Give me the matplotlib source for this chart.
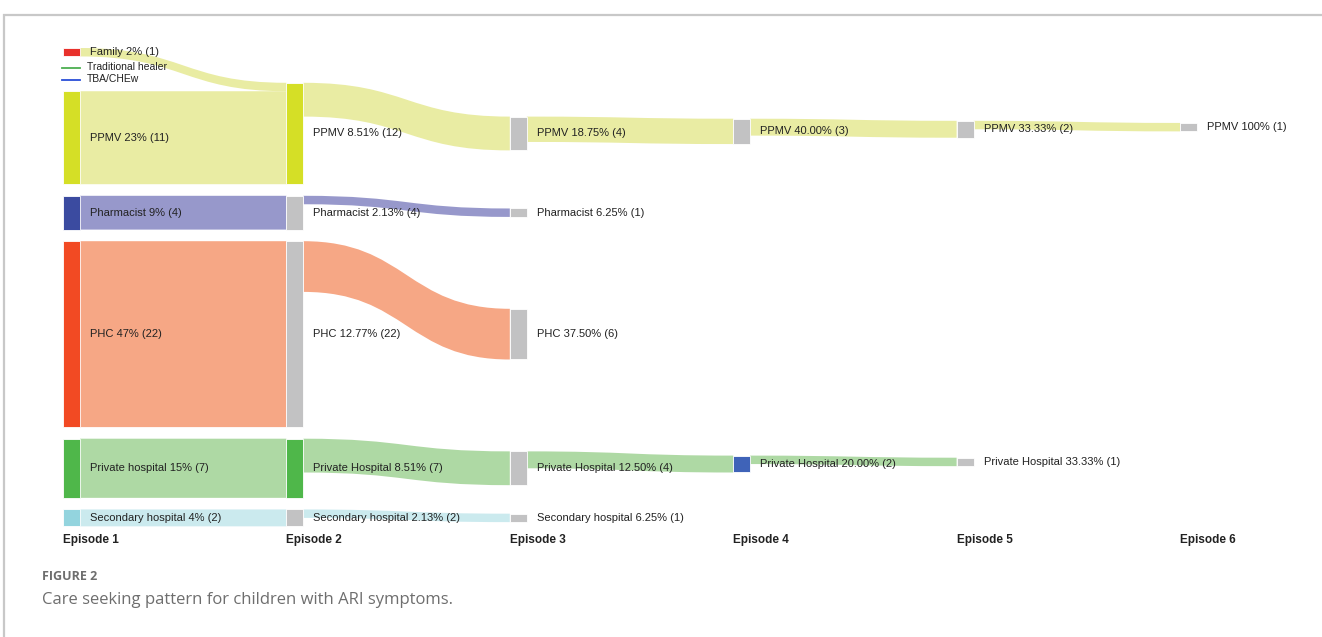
import matplotlib.pyplot as plt
from matplotlib.path import Path
from matplotlib.patches import PathPatch, Rectangle

# ---- data ----
episodes = ["Episode 1", "Episode 2", "Episode 3", "Episode 4", "Episode 5", "Episode 6"]

ep1_nodes = ["Family", "Traditional healer", "TBA/CHEw", "PPMV", "Pharmacist",
             "PHC", "Private hospital", "Secondary hospital"]
ep1_counts = [1, 0, 0, 11, 4, 22, 7, 2]
ep1_labels = ["Family 2% (1)", "Traditional healer", "TBA/CHEw", "PPMV 23% (11)",
              "Pharmacist 9% (4)", "PHC 47% (22)", "Private hospital 15% (7)",
              "Secondary hospital 4% (2)"]

ep2_nodes = ["PPMV", "Pharmacist", "PHC", "Private hospital", "Secondary hospital"]
ep2_counts = [12, 4, 22, 7, 2]
ep2_labels = ["PPMV 8.51% (12)", "Pharmacist 2.13% (4)", "PHC 12.77% (22)",
              "Private Hospital 8.51% (7)", "Secondary hospital 2.13% (2)"]

ep3_nodes = ["PPMV", "Pharmacist", "PHC", "Private hospital", "Secondary hospital"]
ep3_counts = [4, 1, 6, 4, 1]
ep3_labels = ["PPMV 18.75% (4)", "Pharmacist 6.25% (1)", "PHC 37.50% (6)",
              "Private Hospital 12.50% (4)", "Secondary hospital 6.25% (1)"]

ep4_nodes = ["PPMV", "Private hospital"]
ep4_counts = [3, 2]
ep4_labels = ["PPMV 40.00% (3)", "Private Hospital 20.00% (2)"]

ep5_nodes = ["PPMV", "Private hospital"]
ep5_counts = [2, 1]
ep5_labels = ["PPMV 33.33% (2)", "Private Hospital 33.33% (1)"]

ep6_nodes = ["PPMV"]
ep6_counts = [1]
ep6_labels = ["PPMV 100% (1)"]

# (source episode index, source node, target node, count)
flows = [
    (0, "Family", "PPMV", 1), (0, "PPMV", "PPMV", 11), (0, "Pharmacist", "Pharmacist", 4),
    (0, "PHC", "PHC", 22), (0, "Private hospital", "Private hospital", 7),
    (0, "Secondary hospital", "Secondary hospital", 2),
    (1, "PPMV", "PPMV", 4), (1, "Pharmacist", "Pharmacist", 1), (1, "PHC", "PHC", 6),
    (1, "Private hospital", "Private hospital", 4),
    (1, "Secondary hospital", "Secondary hospital", 1),
    (2, "PPMV", "PPMV", 3), (2, "Private hospital", "Private hospital", 2),
    (3, "PPMV", "PPMV", 2), (3, "Private hospital", "Private hospital", 1),
    (4, "PPMV", "PPMV", 1),
]

# ---- style ----
cat_colors = {"Family": "#e8312b", "Traditional healer": "#4caf50", "TBA/CHEw": "#2a4ed8",
              "PPMV": "#d5df26", "Pharmacist": "#3b4ba0", "PHC": "#f24a23",
              "Private hospital": "#4fb74a", "Secondary hospital": "#93d4de"}
flow_colors = {"PPMV": "#e8eb9e", "Pharmacist": "#9293c9", "PHC": "#f6a27e",
               "Private hospital": "#aad79f", "Secondary hospital": "#c9e9ee"}
gray = "#c2c2c3"
node_override = {(1, "PPMV"): "#d5df26", (1, "Private hospital"): "#4fb74a",
                 (3, "Private hospital"): "#3f63b8"}

K = 8.45        # px per person
GAP = 11.6
NODE_W = 17
X0 = 63
DX = 223.4
TOP = 48
LABEL_DX = 10

plt.rcParams['font.family'] = ['Liberation Sans', 'DejaVu Sans']

fig = plt.figure(figsize=(13.22, 6.37), dpi=100)
ax = fig.add_axes([0, 0, 1, 1])
ax.set_xlim(0, 1322)
ax.set_ylim(637, 0)
ax.axis("off")

columns = [
    (ep1_nodes, ep1_counts, ep1_labels), (ep2_nodes, ep2_counts, ep2_labels),
    (ep3_nodes, ep3_counts, ep3_labels), (ep4_nodes, ep4_counts, ep4_labels),
    (ep5_nodes, ep5_counts, ep5_labels), (ep6_nodes, ep6_counts, ep6_labels),
]

# ---- layout ----
pos = {}  # (episode, node) -> [top, bottom]
y = TOP
for n, c in zip(ep1_nodes, ep1_counts):
    pos[(0, n)] = [y, y + c * K]
    y += c * K + GAP
bottom = y - GAP
y = bottom
for n, c in reversed(list(zip(ep2_nodes, ep2_counts))):
    pos[(1, n)] = [y - c * K, y]
    y -= c * K + GAP

# later columns sit on the source node, pulled toward the incoming flow
for e in range(2, len(columns)):
    pull = 0.0 if e == 2 else 0.5
    for n, c in zip(columns[e][0], columns[e][1]):
        st, sb = pos[(e - 1, n)]
        sc = (st + sb) / 2
        fc = st + c * K / 2
        cc = sc + pull * (fc - sc)
        pos[(e, n)] = [cc - c * K / 2, cc + c * K / 2]

# ---- flows ----
src_off = {}
tgt_off = {}
for e, s, t, v in flows:
    h = v * K
    s0 = pos[(e, s)][0] + src_off.get((e, s), 0)
    t0 = pos[(e + 1, t)][0] + tgt_off.get((e + 1, t), 0)
    src_off[(e, s)] = src_off.get((e, s), 0) + h
    tgt_off[(e + 1, t)] = tgt_off.get((e + 1, t), 0) + h
    xa = X0 + e * DX + NODE_W
    xb = X0 + (e + 1) * DX
    xm = (xa + xb) / 2
    verts = [(xa, s0), (xm, s0), (xm, t0), (xb, t0),
             (xb, t0 + h), (xm, t0 + h), (xm, s0 + h), (xa, s0 + h), (xa, s0)]
    codes = [Path.MOVETO, Path.CURVE4, Path.CURVE4, Path.CURVE4,
             Path.LINETO, Path.CURVE4, Path.CURVE4, Path.CURVE4, Path.CLOSEPOLY]
    ax.add_patch(PathPatch(Path(verts, codes), facecolor=flow_colors[t],
                           edgecolor="none", alpha=0.95, zorder=1))

# ---- nodes and labels ----
for e, (nodes, counts, labels) in enumerate(columns):
    x = X0 + e * DX
    for n, c, lab in zip(nodes, counts, labels):
        top, bot = pos[(e, n)]
        if e == 0:
            col = cat_colors[n]
        else:
            col = node_override.get((e, n), gray)
        if c == 0:
            ax.plot([x - 1, x + NODE_W], [top, top], color=col, lw=1.3, zorder=3)
            ax.text(x + NODE_W + 7, top - 1, lab, fontsize=7.5, va="center",
                    ha="left", color="#222222", zorder=4)
            continue
        ax.add_patch(Rectangle((x, top), NODE_W, bot - top, facecolor=col,
                               edgecolor="white", lw=0.6, zorder=3))
        ax.text(x + NODE_W + LABEL_DX, (top + bot) / 2, lab, fontsize=8, va="center",
                ha="left", color="#222222", zorder=4)
    ax.text(x, 540, episodes[e], fontsize=8.5, fontweight="bold", va="center",
            ha="left", color="#222222")

# ---- frame and caption ----
ax.plot([3, 1322], [14.5, 14.5], color="#c8c8c8", lw=1.6, solid_capstyle="butt")
ax.plot([3.5, 3.5], [14, 637], color="#c8c8c8", lw=1.6, solid_capstyle="butt")
ax.text(42, 576, "FIGURE 2", fontsize=9, fontweight="bold", color="#6e6e6e",
        va="center", ha="left", family=["Open Sans", "DejaVu Sans"])
ax.text(42, 600, "Care seeking pattern for children with ARI symptoms.", fontsize=12,
        color="#6e6e6e", va="center", ha="left", family=["Open Sans", "DejaVu Sans"])

fig.savefig("out.png", dpi=100)
